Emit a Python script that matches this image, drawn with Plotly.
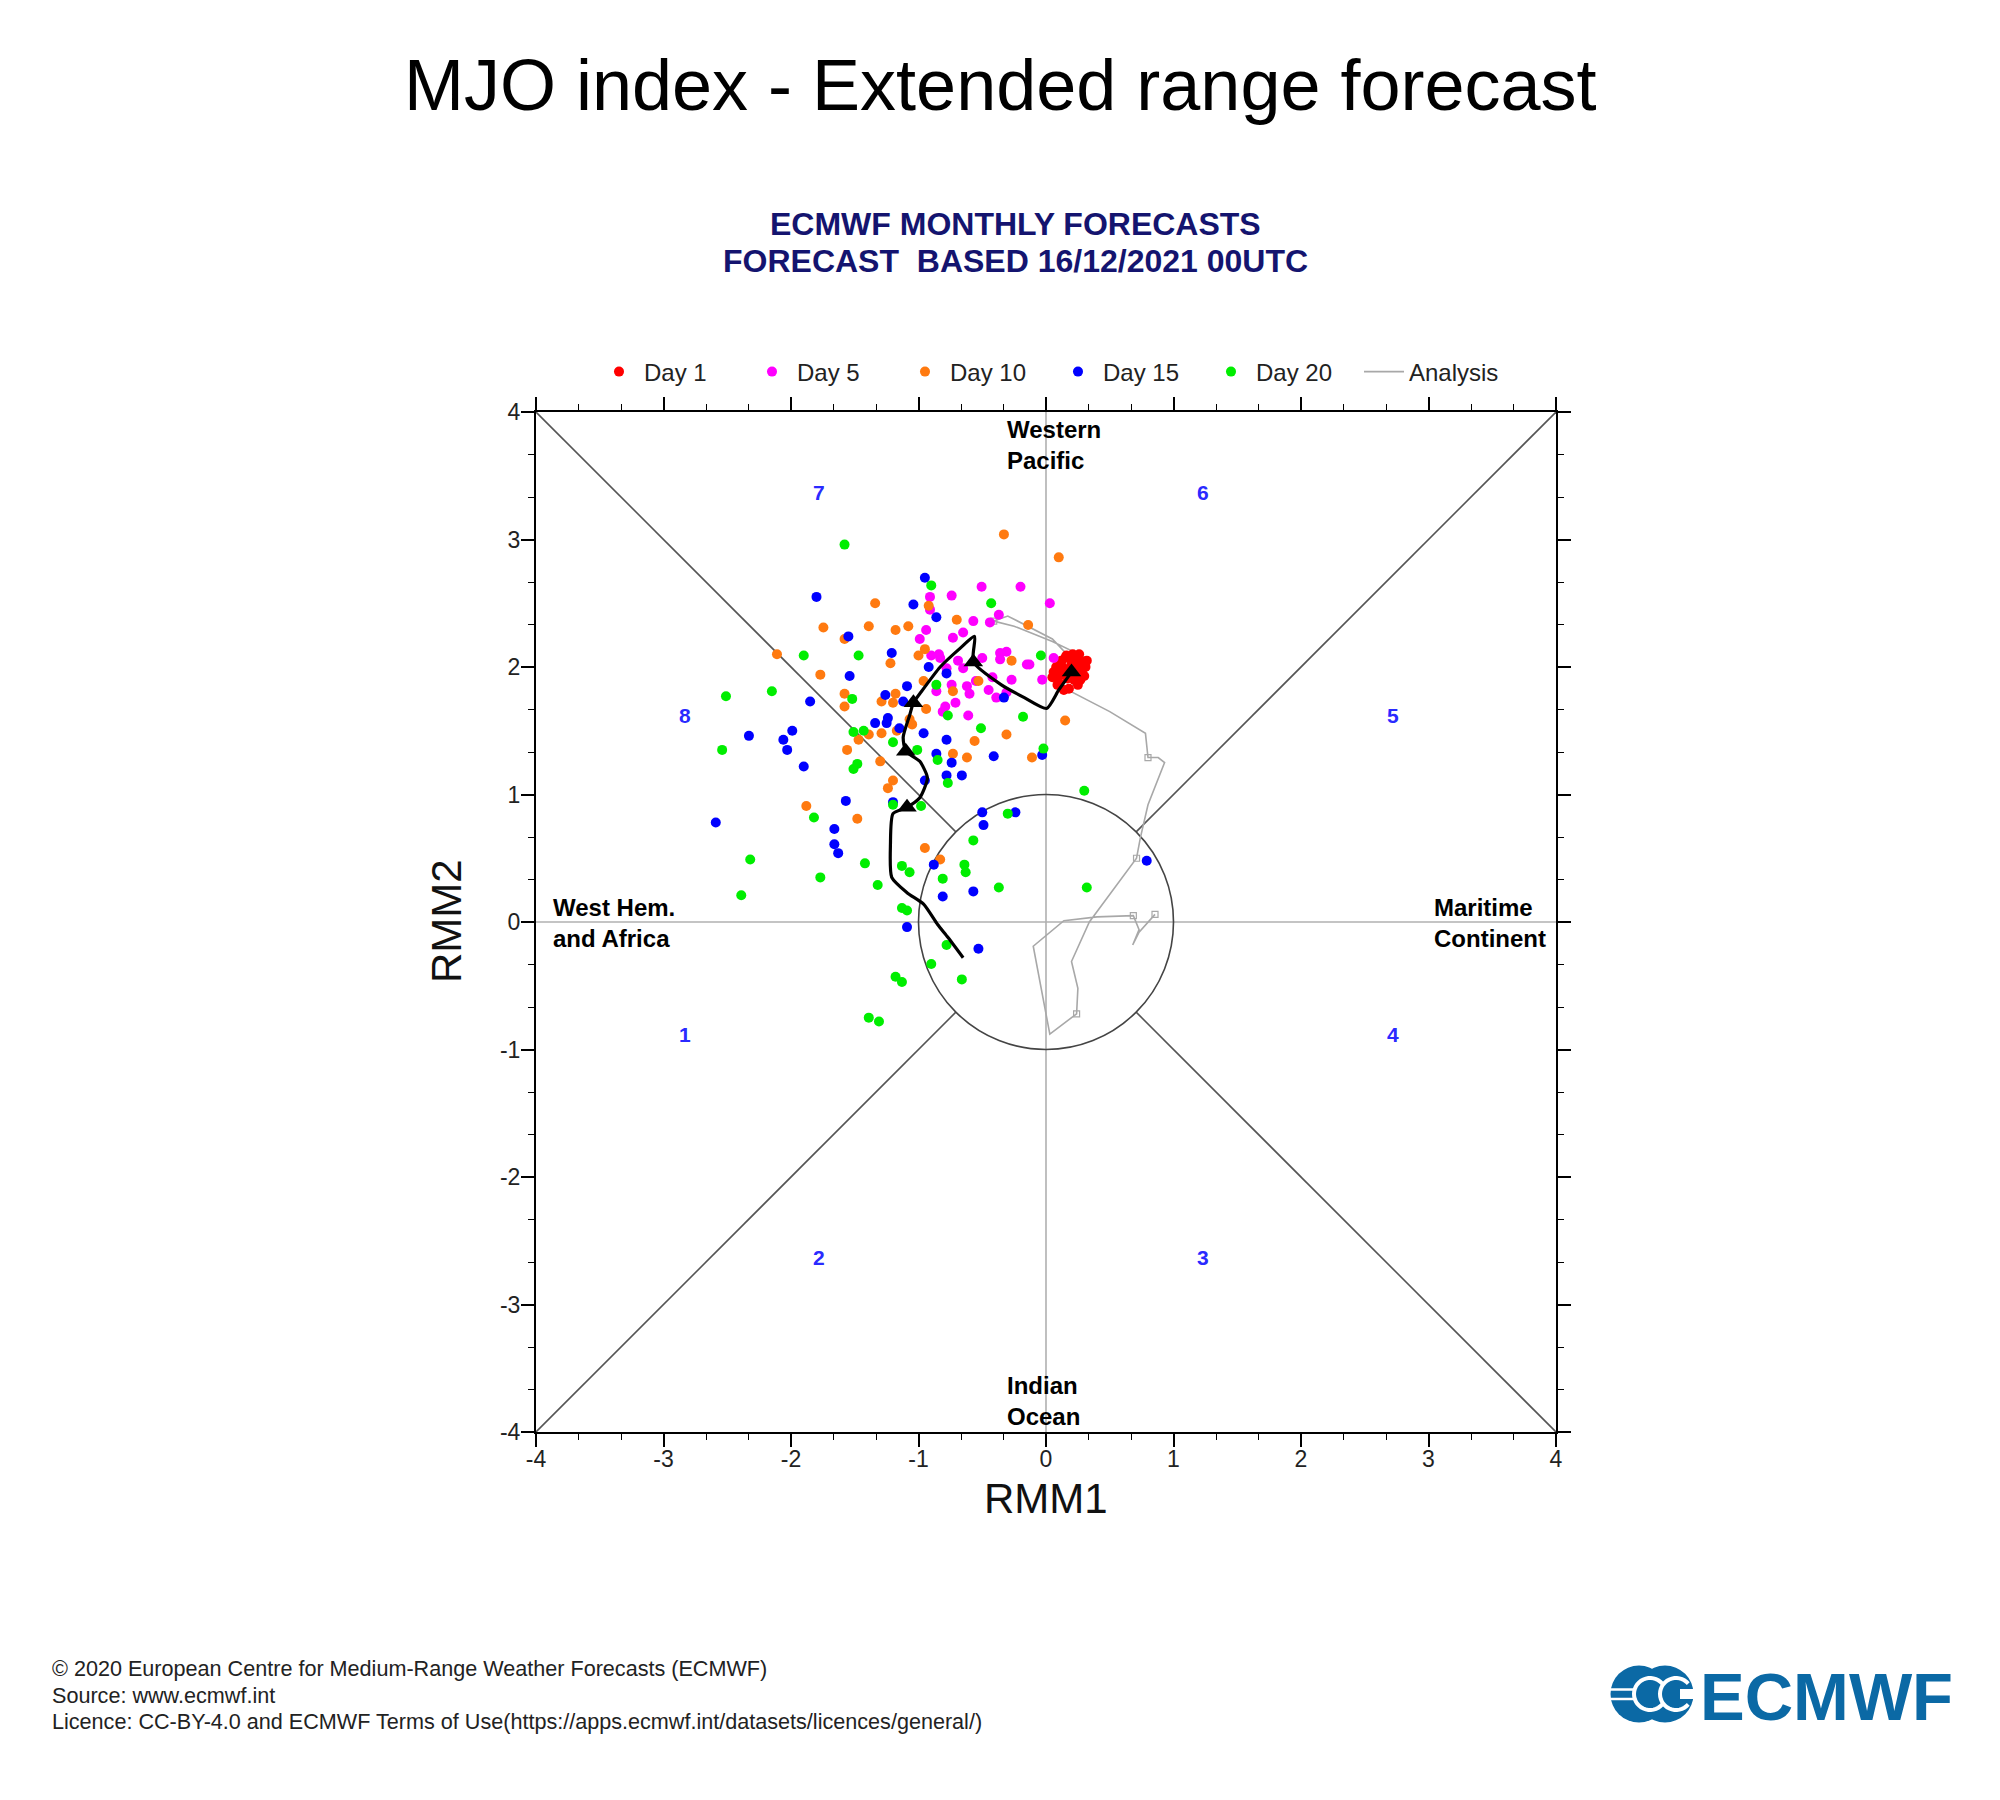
import plotly.graph_objects as go
import math

# ---------------- data (RMM1, RMM2) ----------------
DAY1_X = [0.05, 0.08, 0.10, 0.12, 0.14, 0.16, 0.18, 0.20, 0.22, 0.24, 0.26, 0.28, 0.30, 0.32,
          0.06, 0.09, 0.13, 0.17, 0.21, 0.25, 0.29, 0.11, 0.15, 0.19, 0.23, 0.27, 0.31, 0.14, 0.20, 0.26]
DAY1_Y = [1.92, 2.00, 1.88, 2.05, 1.95, 2.09, 1.83, 2.02, 1.90, 2.07, 1.97, 2.04, 1.93, 2.05,
          1.96, 1.86, 2.00, 1.91, 2.10, 1.86, 1.99, 1.94, 2.07, 1.97, 2.03, 1.90, 2.00, 1.82, 2.06, 2.10]

DAY5_X = [0.03, -0.20, -0.505, -0.74, -0.91, -0.57, -0.37, -0.44, -0.94, -0.99, -0.73, -0.65,
          -0.90, -0.84, -0.69, -0.50, -0.36, -0.31, -0.36, -0.15, -0.27, -0.45, -0.39, -0.31,
          -0.62, -0.74, -0.71, -0.79, -0.81, -0.61, -0.83, -0.78, 0.06, -0.03, -0.13, -0.55,
          -0.42, -0.86, -0.91, -0.65, -0.60]
DAY5_Y = [2.50, 2.63, 2.63, 2.56, 2.55, 2.36, 2.41, 2.35, 2.29, 2.22, 2.23, 2.27,
          2.09, 2.10, 2.05, 2.07, 2.11, 2.12, 2.06, 2.02, 1.90, 1.82, 1.76, 1.80,
          1.85, 1.86, 1.72, 1.69, 1.65, 1.62, 2.07, 1.99, 2.07, 1.90, 2.02, 1.89,
          1.92, 1.81, 2.45, 1.99, 1.79]

DAY10_X = [-1.746, -1.39, -1.58, -2.11, -1.77, -1.58, -1.58, -1.47, -1.56,
           -0.33, -1.34, -0.92, -1.18, -1.08, -0.70, -0.14, -0.95, -1.00, -1.22, -0.27,
           -0.53, -0.96, -0.73, -1.18, -1.29, -1.20, -0.94, -1.07, -1.05, -1.39, -1.29,
           -1.17, -0.31, -0.56, -0.73, -0.62, -0.11, -1.30, 0.10, 0.15,
           -1.20, -1.24, -1.88, -1.48, -0.95, -0.83]
DAY10_Y = [2.31, 2.32, 2.22, 2.10, 1.94, 1.79, 1.69, 1.43, 1.35,
           3.04, 2.50, 2.48, 2.29, 2.32, 2.37, 2.33, 2.14, 2.09, 2.03, 2.05,
           1.89, 1.89, 1.81, 1.79, 1.73, 1.72, 1.67, 1.59, 1.55, 1.47, 1.48,
           1.50, 1.47, 1.42, 1.32, 1.29, 1.29, 1.26, 2.86, 1.58,
           1.11, 1.05, 0.91, 0.81, 0.58, 0.49]

DAY15_X = [-1.80, -1.55, -1.54, -1.85, -2.33, -1.99, -2.06, -2.03, -1.90,
           -0.95, -1.04, -0.86, -1.21, -0.92, -0.78, -1.09, -1.26, -1.12, -1.34, -1.24,
           -1.25, -1.15, -0.96, -0.33, -0.78, -0.86, -0.74, -0.41, -0.03,
           -2.59, -1.57, -1.66, -1.66, -1.63, -0.95, -1.20, -0.78, -0.88, -0.81, -1.09,
           -0.66, -0.50, -0.24, -0.49, 0.79, -0.57, -0.53]
DAY15_Y = [2.55, 2.24, 1.93, 1.73, 1.46, 1.50, 1.43, 1.35, 1.22,
           2.70, 2.49, 2.39, 2.11, 2.00, 1.95, 1.85, 1.78, 1.73, 1.56, 1.60,
           1.56, 1.52, 1.48, 1.76, 1.43, 1.32, 1.25, 1.30, 1.31,
           0.78, 0.95, 0.73, 0.61, 0.54, 1.11, 0.94, 1.15, 0.45, 0.20, -0.04,
           1.15, 0.86, 0.86, 0.76, 0.48, 0.24, -0.21]

DAY20_X = [-1.58, -1.90, -1.47, -2.15, -2.51, -1.52, -1.51, -1.43, -2.54, -1.48, -1.51,
           -0.90, -0.43, -0.86, -0.77, -0.18, -0.51, -1.20, -1.01, -0.85, -0.04, -0.02, 0.30,
           -0.77, -1.20, -0.98, -1.82, -2.32, -2.39, -1.77, -1.42, -1.32, -1.13, -1.07,
           -0.81, -1.13, -1.09, -0.78, -0.90, -1.18, -1.13, -1.39, -1.31,
           -0.30, -0.57, -0.64, -0.63, -0.37, 0.32, -0.66]
DAY20_Y = [2.96, 2.09, 2.09, 1.81, 1.77, 1.75, 1.49, 1.50, 1.35, 1.24, 1.20,
           2.64, 2.50, 1.86, 1.62, 1.61, 1.52, 1.41, 1.35, 1.27, 2.09, 1.36, 1.03,
           1.09, 0.92, 0.91, 0.82, 0.49, 0.21, 0.35, 0.46, 0.29, 0.44, 0.39,
           0.34, 0.11, 0.09, -0.18, -0.33, -0.43, -0.47, -0.75, -0.78,
           0.85, 0.64, 0.45, 0.39, 0.27, 0.27, -0.45]

# ensemble-mean forecast track
MEAN_X = [0.20, 0.10, 0.005, -0.17, -0.35, -0.57, -0.56, -0.67, -0.83, -0.99, -1.04,
          -1.07, -1.12, -1.10, -0.99, -0.93, -0.99, -1.09, -1.20, -1.22, -1.21, -1.09,
          -0.96, -0.85, -0.77, -0.65]
MEAN_Y = [1.96, 1.82, 1.675, 1.76, 1.86, 2.04, 2.24, 2.15, 2.00, 1.79, 1.72,
          1.62, 1.45, 1.34, 1.26, 1.13, 0.975, 0.90, 0.85, 0.61, 0.35, 0.23,
          0.14, -0.02, -0.12, -0.28]
MEAN_MARK_IDX = [0, 5, 10, 13, 17]

# analysis track
AN_X = [0.855, 0.73, 0.68, 0.73, 0.685, 0.40, 0.14, -0.05, -0.10, 0.03, 0.24, 0.25, 0.20,
        0.34, 0.71, 0.74, 0.80, 0.93, 0.88, 0.80, 0.78, 0.50, 0.19, 0.30, 0.05, -0.25,
        -0.41, -0.30, 0.05, 0.22]
AN_Y = [0.06, -0.08, -0.18, -0.06, 0.05, 0.04, 0.01, -0.15, -0.19, -0.88, -0.72, -0.52, -0.31,
        0.00, 0.50, 0.66, 0.92, 1.25, 1.29, 1.29, 1.48, 1.65, 1.81, 2.08, 2.20, 2.32,
        2.36, 2.40, 2.22, 2.04]
AN_MARK_IDX = [0, 4, 10, 14, 19, 26]

TICKS = [-4, -3, -2, -1, 0, 1, 2, 3, 4]
TICK_TEXT = ["-4", "-3", "-2", "-1", "0", "1", "2", "3", "4"]

PHASE_LABELS = ["1", "2", "3", "4", "5", "6", "7", "8"]
PHASE_X = [-2.83, -1.78, 1.23, 2.72, 2.72, 1.23, -1.78, -2.83]
PHASE_Y = [-0.88, -2.63, -2.63, -0.88, 1.62, 3.37, 3.37, 1.62]

# ---------------- layout helpers ----------------
W, H = 2000, 1800
ML, MR, MT, MB = 536, 444, 412, 368
PW = W - ML - MR
PH = H - MT - MB


def px_x(x):
    return (x - ML) / PW


def px_y(y):
    return (H - MB - y) / PH


FONT = "Liberation Sans, Arial, Helvetica, sans-serif"
NAVY = "#14146f"
LOGO_BLUE = "#0b69a5"

fig = go.Figure()

# analysis
fig.add_trace(go.Scatter(x=AN_X, y=AN_Y, mode="lines", name="Analysis",
                         line=dict(color="#a8a8a8", width=1.6), legendrank=6))
fig.add_trace(go.Scatter(x=[AN_X[i] for i in AN_MARK_IDX], y=[AN_Y[i] for i in AN_MARK_IDX],
                         mode="markers", showlegend=False, hoverinfo="skip",
                         marker=dict(symbol="square-open", size=6, color="#a8a8a8",
                                     line=dict(width=1.2))))

series = [("Day 1", DAY1_X, DAY1_Y, "#ff0000"),
          ("Day 5", DAY5_X, DAY5_Y, "#ff00ff"),
          ("Day 10", DAY10_X, DAY10_Y, "#ff7a10"),
          ("Day 15", DAY15_X, DAY15_Y, "#0000ff"),
          ("Day 20", DAY20_X, DAY20_Y, "#00ee00")]
for rank, (name, xs, ys, col) in enumerate(series, start=1):
    fig.add_trace(go.Scatter(x=xs, y=ys, mode="markers", name=name, legendrank=rank,
                             marker=dict(color=col, size=10, line=dict(width=0))))

# ensemble mean
fig.add_trace(go.Scatter(x=MEAN_X, y=MEAN_Y, mode="lines", showlegend=False,
                         line=dict(color="black", width=3.2, shape="spline", smoothing=0.6)))
fig.add_trace(go.Scatter(x=[MEAN_X[i] for i in MEAN_MARK_IDX], y=[MEAN_Y[i] for i in MEAN_MARK_IDX],
                         mode="markers", showlegend=False,
                         marker=dict(symbol="triangle-up", size=17, color="black")))

# background geometry
shapes = []
r = 0.70711
for sx, sy in [(-1, 1), (1, 1), (1, -1), (-1, -1)]:
    shapes.append(dict(type="line", xref="x", yref="y", x0=4 * sx, y0=4 * sy, x1=r * sx, y1=r * sy,
                       line=dict(color="#555555", width=1.6), layer="below"))
shapes.append(dict(type="line", xref="x", yref="y", x0=-4, y0=0, x1=4, y1=0,
                   line=dict(color="#b0b0b0", width=1.6), layer="below"))
shapes.append(dict(type="line", xref="x", yref="y", x0=0, y0=-4, x1=0, y1=4,
                   line=dict(color="#b0b0b0", width=1.6), layer="below"))
shapes.append(dict(type="circle", xref="x", yref="y", x0=-1, y0=-1, x1=1, y1=1,
                   line=dict(color="#444444", width=1.6), layer="below"))


# ECMWF logo symbol (paper coords from pixel positions)
def circ(cx, cy, rr, fill):
    return dict(type="circle", xref="paper", yref="paper",
                x0=px_x(cx - rr), x1=px_x(cx + rr), y0=px_y(cy + rr), y1=px_y(cy - rr),
                fillcolor=fill, line=dict(width=0), layer="above")


shapes.append(circ(1639, 1694, 28.5, LOGO_BLUE))
shapes.append(circ(1665, 1694, 28.5, LOGO_BLUE))


def arc_path(cx, cy, rr, a0, a1, n=30):
    pts = []
    for k in range(n + 1):
        a = math.radians(a0 + (a1 - a0) * k / n)
        pts.append((px_x(cx + rr * math.cos(a)), px_y(cy - rr * math.sin(a))))
    return "M " + " L ".join(f"{p[0]:.5f},{p[1]:.5f}" for p in pts)


shapes.append(dict(type="path", xref="paper", yref="paper", path=arc_path(1650, 1694, 16, 40, 320),
                   line=dict(color="white", width=4), layer="above"))
shapes.append(dict(type="path", xref="paper", yref="paper", path=arc_path(1676, 1694, 16, 40, 320),
                   line=dict(color="white", width=4), layer="above"))
shapes.append(dict(type="rect", xref="paper", yref="paper", x0=px_x(1680), x1=px_x(1695),
                   y0=px_y(1699), y1=px_y(1689), fillcolor="white", line=dict(width=0), layer="above"))
for yy in (1689.5, 1699):
    shapes.append(dict(type="line", xref="paper", yref="paper", x0=px_x(1609), x1=px_x(1636),
                       y0=px_y(yy), y1=px_y(yy), line=dict(color="white", width=2.5), layer="above"))

annotations = []
# titles
annotations.append(dict(text="MJO index - Extended range forecast", xref="paper", yref="paper",
                        x=px_x(1000), y=px_y(85), xanchor="center", yanchor="middle",
                        showarrow=False, font=dict(family=FONT, size=72, color="black")))
annotations.append(dict(text="<b>ECMWF MONTHLY FORECASTS</b>", xref="paper", yref="paper",
                        x=px_x(1015), y=px_y(224), xanchor="center", yanchor="middle",
                        showarrow=False, font=dict(family=FONT, size=32, color=NAVY)))
annotations.append(dict(text="<b>FORECAST  BASED 16/12/2021 00UTC</b>", xref="paper", yref="paper",
                        x=px_x(1015), y=px_y(261), xanchor="center", yanchor="middle",
                        showarrow=False, font=dict(family=FONT, size=32, color=NAVY)))
# axis titles
annotations.append(dict(text="RMM1", xref="paper", yref="paper", x=px_x(1046), y=px_y(1498),
                        xanchor="center", yanchor="middle", showarrow=False,
                        font=dict(family=FONT, size=42, color="#111111")))
annotations.append(dict(text="RMM2", xref="paper", yref="paper", x=px_x(446), y=px_y(921),
                        xanchor="center", yanchor="middle", showarrow=False, textangle=-90,
                        font=dict(family=FONT, size=42, color="#111111")))
# region labels
reg_font = dict(family=FONT, size=24, color="black")
annotations.append(dict(text="<b>Western<br>Pacific</b>", x=-0.32, y=3.74, xref="x", yref="y",
                        xanchor="left", yanchor="middle", align="left", showarrow=False, font=reg_font))
annotations.append(dict(text="<b>Indian<br>Ocean</b>", x=-0.32, y=-3.76, xref="x", yref="y",
                        xanchor="left", yanchor="middle", align="left", showarrow=False, font=reg_font))
annotations.append(dict(text="<b>West Hem.<br>and Africa</b>", x=-3.88, y=-0.01, xref="x", yref="y",
                        xanchor="left", yanchor="middle", align="left", showarrow=False, font=reg_font))
annotations.append(dict(text="<b>Maritime<br>Continent</b>", x=3.03, y=-0.01, xref="x", yref="y",
                        xanchor="left", yanchor="middle", align="left", showarrow=False, font=reg_font))
# phase numbers
for lab, px_, py_ in zip(PHASE_LABELS, PHASE_X, PHASE_Y):
    annotations.append(dict(text=f"<b>{lab}</b>", x=px_, y=py_, xref="x", yref="y",
                            xanchor="center", yanchor="middle", showarrow=False,
                            font=dict(family=FONT, size=21, color="#2a2aff")))
# footer
footer = ["© 2020 European Centre for Medium-Range Weather Forecasts (ECMWF)",
          "Source: www.ecmwf.int",
          "Licence: CC-BY-4.0 and ECMWF Terms of Use(https://apps.ecmwf.int/datasets/licences/general/)"]
for line, yy in zip(footer, [1668, 1695, 1722]):
    annotations.append(dict(text=line, xref="paper", yref="paper", x=px_x(50), y=px_y(yy),
                            xanchor="left", yanchor="middle", showarrow=False,
                            font=dict(family=FONT, size=21.6, color="#222222")))
annotations.append(dict(text="<b>ECMWF</b>", xref="paper", yref="paper", x=px_x(1826), y=px_y(1696),
                        xanchor="center", yanchor="middle", showarrow=False,
                        font=dict(family=FONT, size=67, color=LOGO_BLUE)))

minor_vals = [v / 3 for v in range(-12, 13) if v % 3 != 0]
axis_common = dict(range=[-4, 4], autorange=False, showgrid=False, zeroline=False,
                   showline=True, linecolor="black", linewidth=2, mirror="ticks",
                   ticks="outside", ticklen=13, tickwidth=1.6, tickcolor="black",
                   tickmode="array", tickvals=TICKS, ticktext=TICK_TEXT,
                   tickfont=dict(family=FONT, size=23, color="#222222"),
                   minor=dict(tickmode="array", tickvals=minor_vals, ticks="outside",
                              ticklen=6, tickwidth=1.2, tickcolor="black", showgrid=False),
                   fixedrange=True)

xaxis = dict(axis_common, ticklabelstandoff=-8)
yaxis = dict(axis_common, ticklabelstandoff=-4)

fig.update_layout(
    width=W, height=H,
    margin=dict(l=ML, r=MR, t=MT, b=MB, autoexpand=False),
    paper_bgcolor="white", plot_bgcolor="white",
    xaxis=xaxis, yaxis=yaxis,
    shapes=shapes, annotations=annotations,
    showlegend=True,
    legend=dict(orientation="h", x=px_x(594), y=px_y(372), xanchor="left", yanchor="middle",
                entrywidth=98, entrywidthmode="pixels", itemwidth=40,
                font=dict(family=FONT, size=24, color="#222222"), bgcolor="rgba(0,0,0,0)",
                traceorder="normal"),
    font=dict(family=FONT),
)

fig.write_html("out.html", config={"displayModeBar": False},
               post_script="document.body.style.margin='0px';")
